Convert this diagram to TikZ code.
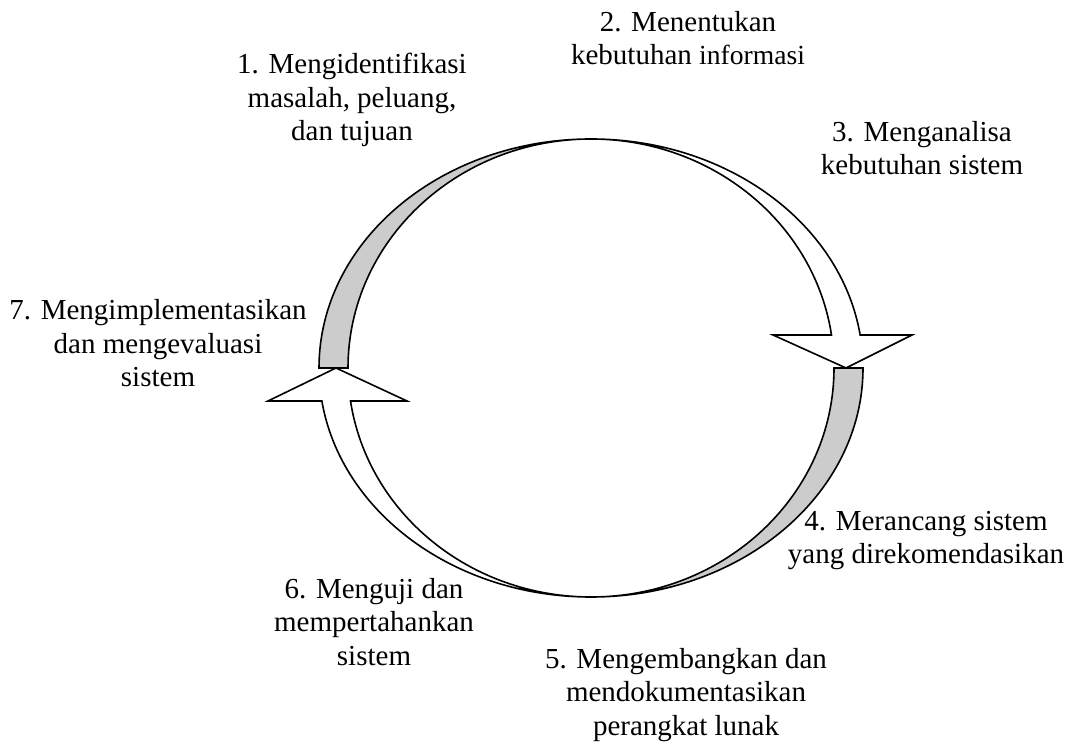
\documentclass[tikz,border=0pt]{standalone}
\usepackage{fontspec}
\setmainfont{Liberation Serif}

\def\outerrx{272}
\def\innerrx{243}
\def\arcry{229}

\begin{document}
\begin{tikzpicture}[x=0.5pt, y=0.5pt, line width=0.8pt, line join=miter]
    \tikzstyle{phase text}=[align=center, anchor=base, inner sep=0pt, font=\fontsize{14.5}{16.75}\selectfont]
    \tikzstyle{shade arrow}=[draw=black, fill=black!20]
    \tikzstyle{plain arrow}=[draw=black, fill=white]

    \useasboundingbox (0,0) rectangle (1075,744);
    \coordinate (C) at (591,376);

    % arrow heads
    \coordinate (R-left) at (773,409);
    \coordinate (R-tip) at (846,376);
    \coordinate (R-right) at (912,409);
    \coordinate (L-left) at (268,343);
    \coordinate (L-tip) at (336,376);
    \coordinate (L-right) at (407,343);

    % upper arrow
    \draw[shade arrow] (C) ++(-\outerrx,0)
        arc[start angle=180, end angle=90, x radius=\outerrx, y radius=\arcry]
        arc[start angle=90, end angle=180, x radius=\innerrx, y radius=\arcry] -- cycle;
    \draw[plain arrow] (C) ++(0,\arcry)
        arc[start angle=90, end angle=8.29, x radius=\outerrx, y radius=\arcry]
        -- (R-right) -- (R-tip) -- (R-left) -- (831.5,409)
        arc[start angle=8.29, end angle=90, x radius=\innerrx, y radius=\arcry] -- cycle;

    % lower arrow
    \draw[shade arrow] (C) ++(\outerrx,0)
        arc[start angle=0, end angle=-90, x radius=\outerrx, y radius=\arcry]
        arc[start angle=-90, end angle=0, x radius=\innerrx, y radius=\arcry] -- cycle;
    \draw[plain arrow] (C) ++(0,-\arcry)
        arc[start angle=270, end angle=188.29, x radius=\outerrx, y radius=\arcry]
        -- (L-left) -- (L-tip) -- (L-right) -- (350.5,343)
        arc[start angle=188.29, end angle=270, x radius=\innerrx, y radius=\arcry] -- cycle;

    % labels, placed at the baseline of their last line
    \foreach \name / \x / \y / \txt in {
        p1/352/603/{1. Mengidentifikasi\\masalah, peluang,\\dan tujuan},
        p2/688/679/{2. Menentukan\\kebutuhan {\fontsize{13.8}{16.75}\selectfont informasi}},
        p3/922/569/{3. Menganalisa\\kebutuhan sistem},
        p4/926/180/{4. Merancang sistem\\yang direkomendasikan},
        p5/686/9/{5. Mengembangkan dan\\mendokumentasikan\\perangkat lunak},
        p6/374/79/{6. Menguji dan\\mempertahankan\\sistem},
        p7/158/357/{7. Mengimplementasikan\\dan mengevaluasi\\sistem}}
        \node[phase text] (\name) at (\x,\y) {\txt};
\end{tikzpicture}
\end{document}
